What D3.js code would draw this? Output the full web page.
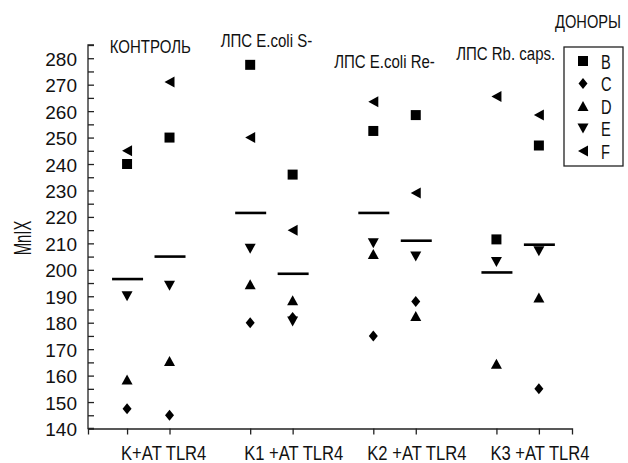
<!DOCTYPE html>
<html>
<head>
<meta charset="utf-8">
<script src="https://cdn.jsdelivr.net/npm/d3@7"></script>
<style>
  body { margin: 0; background: #fff; }
  text { font-family: 'Liberation Sans', Arial, sans-serif; fill: #111; }
</style>
</head>
<body>
<script>
/* data */

var groups = ['КОНТРОЛЬ', 'ЛПС E.coli S-', 'ЛПС E.coli Re-', 'ЛПС Rb. caps.'];
var xLabels = ['K+AT TLR4', 'K1 +AT TLR4', 'K2 +AT TLR4', 'K3 +AT TLR4'];
var donors = ['B', 'C', 'D', 'E', 'F'];

// one value per column: K, +AT, K1, +AT, K2, +AT, K3, +AT
var donorB = [240, 250, 277.5, 236, 252.5, 258.5, 211.5, 247];
var donorC = [147.5, 145, 180, 182, 175, 188, null, 155];
var donorD = [158.5, 165.5, 194.5, 188.5, 206, 182.5, 164.5, 189.5];
var donorE = [190, 194, 208, 180.5, 210, 205, 203, 207];
var donorF = [245, 271, 250, 215, 263.5, 229, 265.5, 258.5];
var means = [196.5, 205, 221.5, 198.5, 221.5, 211, 199, 209.5];

var yTicks = [140, 150, 160, 170, 180, 190, 200, 210, 220, 230, 240, 250, 260, 270, 280];

/* canvas */

var width = 628;
var height = 463;

var svg = d3.select('body').
append('svg').
attr('width', width).
attr('height', height);

// column position: group * 2.9 + 1 + (0 | 1)
function colPos(i) {return Math.floor(i / 2) * 2.9 + 1 + i % 2;}

var x = d3.scaleLinear().domain([0.08, 11.48]).range([88, 572]);
var y = d3.scaleLinear().domain([140, 285]).range([428.5, 45]);

// condensed text: place at (px, py) and squeeze horizontally
function squeeze(sel, px, py, sx) {
  sel.attr('transform', function (d, i) {
    return 'translate(' + px(d, i) + ',' + py(d, i) + ') scale(' + sx + ',1)';
  });
}

/* axes */

var xAxis = d3.axisBottom(x).
tickValues(d3.range(8).map(colPos)).
tickSize(6).
tickFormat('');

svg.append('g').
attr('transform', 'translate(0,' + y(140) + ')').
call(xAxis).
call(function (g) {
  g.selectAll('path, line').attr('stroke', '#222').attr('stroke-width', 1.3);
});

var yAxis = d3.axisRight(y).
tickValues(d3.range(140, 286, 5)).
tickSize(6).
tickFormat('');

svg.append('g').
attr('transform', 'translate(' + x.range()[0] + ',0)').
call(yAxis).
call(function (g) {
  g.select('.domain').attr('d', 'M6,' + y(285) + 'H0V' + y(140) + 'H6');
  g.selectAll('path, line').attr('stroke', '#222').attr('stroke-width', 1.3);
});

svg.selectAll('.ylab').
data(yTicks).
enter().
append('text').
attr('class', 'ylab').
attr('x', 77).
attr('y', function (d) {return y(d) + 7.5;}).
attr('text-anchor', 'end').
style('font-size', '19px').
text(function (d) {return d;});

svg.selectAll('.xlab').
data(xLabels).
enter().
append('text').
attr('class', 'xlab').
style('font-size', '20px').
text(function (d) {return d;}).
call(squeeze, function (d, i) {return x(colPos(i * 2)) - 6;}, function () {return 460;}, 0.83);

svg.append('text').
attr('transform', 'translate(31, 238) rotate(-90) scale(0.62,1)').
attr('text-anchor', 'middle').
style('font-size', '24px').
text('MnIX');

/* group titles */

var titleDx = [2, -5, -10, -12];
var titleY = [53, 47, 68, 60];

svg.selectAll('.gtitle').
data(groups).
enter().
append('text').
attr('class', 'gtitle').
attr('text-anchor', 'middle').
style('font-size', '19px').
text(function (d) {return d;}).
call(squeeze, function (d, i) {return x(colPos(i * 2) + 0.5) + titleDx[i];}, function (d, i) {return titleY[i];}, 0.79);

/* marker shapes */

var shapes = {
  B: 'M-5,-5H5V5H-5Z',
  C: 'M0,-5.5L4.5,0L0,5.5L-4.5,0Z',
  D: 'M0,-5L5.5,5H-5.5Z',
  E: 'M-5.5,-5H5.5L0,5Z',
  F: 'M-5,0L5,-5.5V5.5Z'
};

var series = [donorB, donorC, donorD, donorE, donorF];

donors.forEach(function (name, k) {
  svg.append('g').
  selectAll('path').
  data(series[k].map(function (v, i) {return { v: v, i: i };}).filter(function (d) {return d.v !== null;})).
  enter().
  append('path').
  attr('d', shapes[name]).
  attr('fill', '#000').
  attr('transform', function (d) {return 'translate(' + x(colPos(d.i)) + ',' + y(d.v) + ')';});
});

/* means */

svg.selectAll('.mean').
data(means).
enter().
append('line').
attr('class', 'mean').
attr('x1', function (d, i) {return x(colPos(i)) - 15;}).
attr('x2', function (d, i) {return x(colPos(i)) + 16;}).
attr('y1', function (d) {return y(d);}).
attr('y2', function (d) {return y(d);}).
attr('stroke', '#000').
attr('stroke-width', 2.6);

/* legend */

svg.append('text').
attr('text-anchor', 'middle').
style('font-size', '19px').
text('ДОНОРЫ').
call(squeeze, function () {return 588;}, function () {return 28;}, 0.77);

var legend = svg.append('g').attr('transform', 'translate(564, 47)');

legend.append('rect').
attr('width', 59).
attr('height', 119).
attr('fill', 'none').
attr('stroke', '#222').
attr('stroke-width', 1.3);

var items = legend.selectAll('.item').
data(donors).
enter().
append('g').
attr('class', 'item').
attr('transform', function (d, i) {return 'translate(19,' + (14 + i * 22.5) + ')';});

items.append('path').
attr('d', function (d) {return shapes[d];}).
attr('fill', '#000');

items.append('text').
style('font-size', '19.5px').
text(function (d) {return d;}).
call(squeeze, function () {return 18;}, function () {return 7.5;}, 0.75);
</script>
</body>
</html>
